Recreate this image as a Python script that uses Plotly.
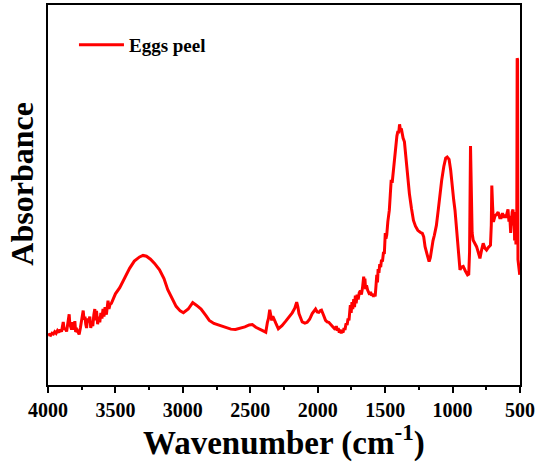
import plotly.graph_objects as go

wavenumber = [4000, 3990, 3980, 3970, 3960, 3950, 3940, 3930, 3920, 3911, 3900, 3892, 3887, 3880,
              3872, 3862, 3855, 3848, 3843, 3838, 3830, 3825, 3818, 3810, 3801, 3795, 3785, 3777,
              3769, 3760, 3752, 3745, 3739, 3733, 3726, 3720, 3714, 3707, 3700, 3690, 3683, 3675,
              3668, 3660, 3653, 3646, 3640, 3632, 3625, 3616, 3608, 3600, 3592, 3585, 3577, 3567,
              3560, 3555, 3548, 3540, 3530, 3515, 3500, 3468, 3430, 3395, 3360, 3321, 3295, 3270,
              3240, 3210, 3173, 3140, 3112, 3080, 3050, 3020, 2996, 2960, 2927, 2900, 2865, 2830,
              2804, 2770, 2730, 2690, 2644, 2610, 2582, 2540, 2508, 2485, 2459, 2420, 2385, 2373,
              2365, 2356, 2348, 2341, 2333, 2324, 2310, 2292, 2265, 2237, 2210, 2189, 2170, 2156,
              2147, 2139, 2115, 2095, 2078, 2060, 2041, 2025, 2016, 2004, 1992, 1980, 1972, 1958,
              1942, 1930, 1918, 1900, 1881, 1870, 1862, 1855, 1848, 1840, 1833, 1826, 1820, 1812,
              1805, 1798, 1790, 1782, 1775, 1768, 1762, 1758, 1752, 1746, 1740, 1733, 1727, 1721,
              1715, 1708, 1700, 1692, 1684, 1676, 1668, 1659, 1655, 1650, 1645, 1638, 1630, 1622,
              1615, 1608, 1600, 1592, 1586, 1580, 1574, 1568, 1562, 1557, 1552, 1546, 1540, 1533,
              1527, 1520, 1512, 1506, 1499, 1494, 1488, 1480, 1469, 1462, 1455, 1448, 1440, 1430,
              1420, 1413, 1405, 1400, 1393, 1387, 1380, 1376, 1367, 1357, 1340, 1320, 1305, 1290,
              1275, 1258, 1240, 1224, 1214, 1204, 1190, 1174, 1165, 1155, 1145, 1135, 1120, 1105,
              1093, 1081, 1065, 1051, 1040, 1026, 1014, 1002, 992, 982, 972, 962, 952, 945, 935,
              921, 905, 889, 880, 874, 867, 861, 855, 847, 835, 822, 810, 797, 785, 773, 760, 748,
              735, 719, 713, 709, 703, 697, 685, 675, 662, 650, 640, 630, 620, 613, 605, 597, 589,
              582, 576, 569, 564, 558, 552, 547, 543, 540, 536, 533, 530, 527, 524, 521, 518, 515,
              508, 502]
absorbance = [0.131, 0.133, 0.131, 0.136, 0.134, 0.140, 0.136, 0.143, 0.138, 0.146, 0.140, 0.152,
              0.166, 0.145, 0.150, 0.141, 0.160, 0.175, 0.186, 0.160, 0.150, 0.146, 0.165, 0.145,
              0.168, 0.140, 0.145, 0.136, 0.133, 0.150, 0.170, 0.185, 0.196, 0.172, 0.180, 0.160,
              0.150, 0.175, 0.165, 0.180, 0.150, 0.165, 0.155, 0.185, 0.200, 0.170, 0.195, 0.160,
              0.180, 0.165, 0.190, 0.175, 0.200, 0.180, 0.205, 0.185, 0.215, 0.222, 0.200, 0.212,
              0.215, 0.228, 0.240, 0.256, 0.283, 0.307, 0.326, 0.337, 0.341, 0.339, 0.331, 0.320,
              0.303, 0.280, 0.251, 0.228, 0.207, 0.195, 0.190, 0.200, 0.217, 0.210, 0.200, 0.183,
              0.170, 0.162, 0.157, 0.152, 0.147, 0.146, 0.148, 0.153, 0.158, 0.159, 0.152, 0.146,
              0.139, 0.165, 0.175, 0.198, 0.180, 0.170, 0.181, 0.175, 0.162, 0.148, 0.156, 0.168,
              0.180, 0.190, 0.202, 0.218, 0.205, 0.188, 0.166, 0.163, 0.165, 0.173, 0.188, 0.198,
              0.200, 0.192, 0.191, 0.196, 0.197, 0.185, 0.170, 0.166, 0.165, 0.158, 0.152, 0.146,
              0.155, 0.143, 0.150, 0.138, 0.146, 0.136, 0.142, 0.138, 0.150, 0.145, 0.162, 0.158,
              0.175, 0.170, 0.195, 0.210, 0.190, 0.218, 0.200, 0.226, 0.205, 0.235, 0.215, 0.238,
              0.225, 0.243, 0.248, 0.238, 0.255, 0.285, 0.262, 0.280, 0.252, 0.262, 0.250, 0.242,
              0.238, 0.245, 0.235, 0.240, 0.232, 0.238, 0.233, 0.260, 0.290, 0.270, 0.305, 0.295,
              0.318, 0.310, 0.330, 0.325, 0.350, 0.345, 0.400, 0.385, 0.395, 0.430, 0.460, 0.500,
              0.540, 0.532, 0.565, 0.595, 0.630, 0.655, 0.668, 0.662, 0.686, 0.672, 0.675, 0.662,
              0.650, 0.640, 0.573, 0.503, 0.465, 0.433, 0.418, 0.407, 0.402, 0.399, 0.390, 0.364,
              0.345, 0.325, 0.335, 0.360, 0.380, 0.394, 0.420, 0.464, 0.505, 0.538, 0.575, 0.597,
              0.600, 0.594, 0.565, 0.512, 0.488, 0.460, 0.420, 0.381, 0.330, 0.303, 0.310, 0.312,
              0.300, 0.290, 0.292, 0.350, 0.629, 0.520, 0.400, 0.381, 0.372, 0.364, 0.350, 0.333,
              0.355, 0.373, 0.360, 0.355, 0.362, 0.368, 0.420, 0.525, 0.470, 0.429, 0.445, 0.448,
              0.455, 0.440, 0.440, 0.452, 0.440, 0.448, 0.440, 0.455, 0.462, 0.430, 0.445, 0.400,
              0.440, 0.455, 0.462, 0.420, 0.450, 0.380, 0.455, 0.400, 0.370, 0.410, 0.400, 0.860,
              0.856, 0.330, 0.300, 0.290]

tick_vals = [4000, 3500, 3000, 2500, 2000, 1500, 1000, 500]
tick_text = ["4000", "3500", "3000", "2500", "2000", "1500", "1000", "500"]
series_name = "Eggs peel"

FONT = "Liberation Serif"

fig = go.Figure()
fig.add_trace(go.Scatter(
    x=wavenumber, y=absorbance, mode="lines", name=series_name,
    line=dict(color="#ff0000", width=3),
))

fig.update_layout(
    width=538, height=463,
    margin=dict(l=48, r=16, t=3, b=78),
    plot_bgcolor="white", paper_bgcolor="white",
    showlegend=True,
    legend=dict(x=0.055, y=0.895, xanchor="left", yanchor="middle",
                bgcolor="rgba(0,0,0,0)", itemwidth=45,
                font=dict(family=FONT, size=19, color="black", weight="bold")),
    font=dict(family=FONT, color="black"),
)
fig.update_xaxes(
    range=[4000, 500], autorange=False,
    tickvals=tick_vals, ticktext=tick_text,
    ticks="outside", ticklen=6, tickwidth=2, tickcolor="black",
    minor=dict(ticks="outside", ticklen=3, tickwidth=2, tickcolor="black", dtick=250),
    tickfont=dict(family=FONT, size=20, color="black", weight="bold"),
    showline=True, linewidth=2, linecolor="black", mirror=True,
    showgrid=False, zeroline=False,
)
fig.update_yaxes(
    range=[0, 1], autorange=False,
    showticklabels=False, ticks="",
    showline=True, linewidth=2, linecolor="black", mirror=True,
    showgrid=False, zeroline=False,
)
fig.add_annotation(
    text="Wavenumber (cm<sup>-1</sup>)", xref="paper", yref="paper",
    x=0.5, y=-0.145, xanchor="center", yanchor="middle", showarrow=False,
    font=dict(family=FONT, size=33, color="black", weight="bold"),
)
fig.add_annotation(
    text="Absorbance", xref="paper", yref="paper",
    x=-0.055, y=0.53, xanchor="center", yanchor="middle", showarrow=False, textangle=-90,
    font=dict(family=FONT, size=32, color="black", weight="bold"),
)

fig.write_html("out.html", config={"displayModeBar": False},
               post_script="document.body.style.margin='0';")
